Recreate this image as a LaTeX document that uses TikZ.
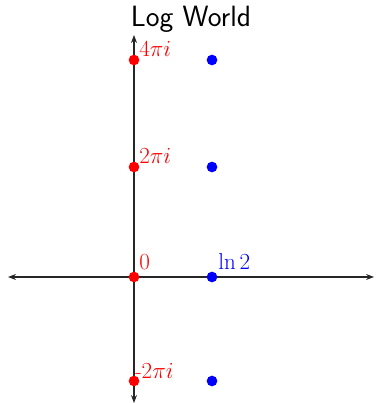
\documentclass[tikz,border=0pt]{standalone}
\usetikzlibrary{arrows.meta}
\begin{document}
\begin{tikzpicture}[x=0.75pt,y=-0.75pt,
  axis/.style={draw=black!85,line width=0.8pt,-{Stealth[length=6pt,width=4.5pt]}},
  rdot/.style={circle,fill=red,inner sep=0pt,minimum size=8pt},
  bdot/.style={circle,fill=blue,inner sep=0pt,minimum size=8pt},
  lab/.style={anchor=base west,inner sep=0pt,font=\fontsize{16}{19}\selectfont}]
\useasboundingbox (0,0) rectangle (375,403);
\coordinate (xL) at (8,277);
\coordinate (xR) at (374,277);
\coordinate (yT) at (134,35);
\coordinate (yB) at (134,403);
\coordinate (o) at (134,277);
\draw[axis] (o) -- (xL);
\draw[axis] (o) -- (xR);
\draw[axis] (o) -- (yT);
\draw[axis] (o) -- (yB);
\node[font=\fontsize{22}{26}\selectfont\sffamily,anchor=base] (title) at (191,27) {Log World};
\node[rdot] (r4) at (134,60) {};
\node[rdot] (r2) at (134,167) {};
\node[rdot] (r0) at (134,277) {};
\node[rdot] (rm) at (134,381) {};
\node[bdot] (b4) at (212,60) {};
\node[bdot] (b2) at (212,167) {};
\node[bdot] (b0) at (212,277) {};
\node[bdot] (bm) at (212,381) {};
\node[lab,text=red] (l4) at ([shift={(5,-4)}]r4.center) {$4\pi i$};
\node[lab,text=red] (l2) at ([shift={(5,-4)}]r2.center) {$2\pi i$};
\node[lab,text=red] (l0) at ([shift={(5,-8)}]r0.center) {$0$};
\node[lab,text=red] (lm) at ([shift={(1,-3)}]rm.center) {-$2\pi i$};
\node[lab,text=blue] (lb) at ([shift={(6,-8)}]b0.center) {$\ln 2$};
\end{tikzpicture}
\end{document}
